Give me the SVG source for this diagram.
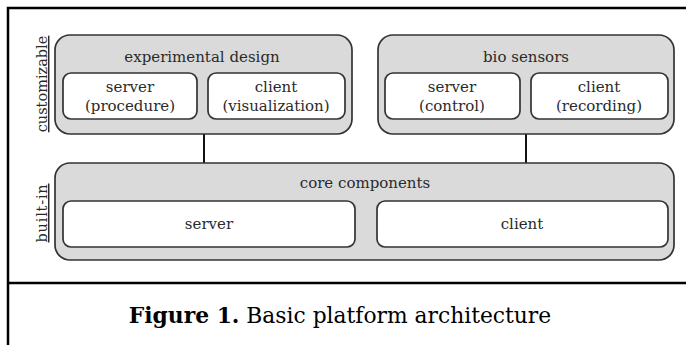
<svg xmlns="http://www.w3.org/2000/svg" width="686" height="345" viewBox="0 0 686 345">
  <style>
    .frame { stroke: #000; stroke-width: 2.5; fill: none; }
    .group { fill: #dadada; stroke: #333; stroke-width: 1.7; }
    .part { fill: #fff; stroke: #333; stroke-width: 1.7; }
    .wire { stroke: #111; stroke-width: 2; fill: none; }
    text { font-family: "DejaVu Serif", "Liberation Serif", serif; fill: #2a2a2a; text-anchor: middle; }
    .title { font-size: 15px; }
    .label { font-size: 15px; }
    .side { font-size: 14.5px; text-decoration: underline; }
    .caption { font-size: 21.8px; fill: #000; }
  </style>

  <rect x="0" y="0" width="686" height="345" fill="#fff"/>

  <!-- figure frame -->
  <g id="frame">
    <path class="frame" d="M8 345 V8 H686"/>
    <path class="frame" d="M8 283 H686"/>
  </g>

  <!-- side labels -->
  <text class="side" transform="translate(47 84) rotate(-90)">customizable</text>
  <text class="side" fill="#111" letter-spacing="0.8" transform="translate(47 213) rotate(-90)">built-in</text>

  <!-- connectors -->
  <g id="connectors">
    <line class="wire" x1="204" y1="134" x2="204" y2="163"/>
    <line class="wire" x1="526" y1="134" x2="526" y2="163"/>
  </g>

  <g id="experimental-design">
    <rect class="group" x="55" y="35" width="297" height="99" rx="15"/>
    <text class="title" x="202" y="62">experimental design</text>
    <g id="ed-server">
      <rect class="part" x="63" y="73" width="134" height="46" rx="8"/>
      <text class="label" x="130" y="92">server</text>
      <text class="label" x="130" y="111">(procedure)</text>
    </g>
    <g id="ed-client">
      <rect class="part" x="208" y="73" width="137" height="46" rx="8"/>
      <text class="label" x="276" y="92">client</text>
      <text class="label" x="276" y="111">(visualization)</text>
    </g>
  </g>

  <g id="bio-sensors">
    <rect class="group" x="378" y="35" width="296" height="99" rx="15"/>
    <text class="title" x="526" y="62">bio sensors</text>
    <g id="bs-server">
      <rect class="part" x="385" y="73" width="135" height="46" rx="8"/>
      <text class="label" x="452" y="92">server</text>
      <text class="label" x="452" y="111">(control)</text>
    </g>
    <g id="bs-client">
      <rect class="part" x="531" y="73" width="137" height="46" rx="8"/>
      <text class="label" x="599" y="92">client</text>
      <text class="label" x="599" y="111">(recording)</text>
    </g>
  </g>

  <g id="core-components">
    <rect class="group" x="55" y="163" width="619" height="97" rx="15"/>
    <text class="title" x="365" y="188">core components</text>
    <g id="core-server">
      <rect class="part" x="63" y="201" width="292" height="46" rx="8"/>
      <text class="label" x="209" y="229">server</text>
    </g>
    <g id="core-client">
      <rect class="part" x="377" y="201" width="291" height="46" rx="8"/>
      <text class="label" x="522" y="229">client</text>
    </g>
  </g>

  <text class="caption" x="340" y="323"><tspan font-weight="bold">Figure 1.</tspan> Basic platform architecture</text>
</svg>
